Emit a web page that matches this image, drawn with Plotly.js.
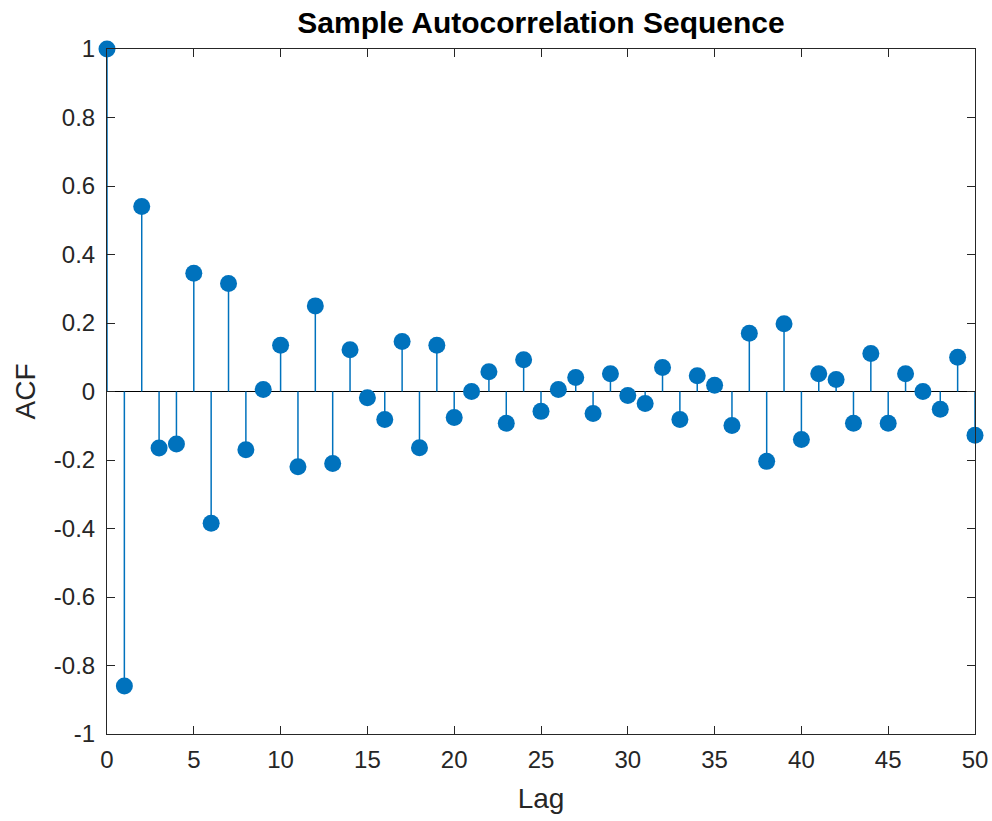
<!DOCTYPE html>
<html>
<head>
<meta charset="utf-8">
<script src="https://cdn.plot.ly/plotly-3.0.1.min.js"></script>
<style>html,body{margin:0;padding:0;background:#fff;}#chart{width:992px;height:821px;}</style>
</head>
<body>
<div id="chart"></div>
<script>
const lags = [];
for (let i = 0; i <= 50; i++) lags.push(i);
const acf = [1.0, -0.86, 0.54, -0.165, -0.153, 0.345, -0.385, 0.315, -0.17, 0.006,
  0.135, -0.22, 0.25, -0.21, 0.122, -0.018, -0.082, 0.146, -0.164, 0.135,
  -0.076, 0.0, 0.058, -0.093, 0.093, -0.058, 0.006, 0.041, -0.064, 0.052,
  -0.012, -0.035, 0.07, -0.082, 0.046, 0.018, -0.099, 0.17, -0.204, 0.198,
  -0.14, 0.052, 0.035, -0.093, 0.111, -0.093, 0.052, 0.0, -0.052, 0.1, -0.128];
const yTickVals = [-1, -0.8, -0.6, -0.4, -0.2, 0, 0.2, 0.4, 0.6, 0.8, 1];
const yTickText = ["-1", "-0.8", "-0.6", "-0.4", "-0.2", "0", "0.2", "0.4", "0.6", "0.8", "1"];
const xTickVals = [0, 5, 10, 15, 20, 25, 30, 35, 40, 45, 50];

const stemX = [], stemY = [];
lags.forEach((k, i) => { stemX.push(k, k, null); stemY.push(0, acf[i], null); });

const blue = '#0072BD';
const axisColor = '#262626';
const font = 'Liberation Sans, Arial, Helvetica, sans-serif';

const data = [
  {x: stemX, y: stemY, mode: 'lines', type: 'scatter', line: {color: blue, width: 1.5}, hoverinfo: 'skip', showlegend: false, cliponaxis: false},
  {x: lags, y: acf, mode: 'markers', type: 'scatter', marker: {color: blue, size: 17}, showlegend: false, cliponaxis: false}
];

const layout = {
  width: 992, height: 821,
  margin: {l: 107, r: 17, t: 49, b: 87},
  paper_bgcolor: '#fff', plot_bgcolor: '#fff',
  font: {family: font, color: axisColor, size: 24},
  title: {text: '<b>Sample Autocorrelation Sequence</b>', font: {family: font, size: 30, color: '#000'}, x: 0.5, xanchor: 'center', xref: 'paper', y: 1 - 22/821, yref: 'container', yanchor: 'middle'},
  xaxis: {
    range: [0, 50], tickvals: xTickVals, ticktext: xTickVals.map(String),
    ticks: 'inside', ticklen: 8, tickwidth: 1, tickcolor: axisColor,
    showline: true, linecolor: axisColor, linewidth: 1, mirror: 'ticks',
    showgrid: false, zeroline: false,
    tickfont: {family: font, size: 24, color: axisColor}, ticklabelstandoff: 4,
    title: {text: 'Lag', font: {family: font, size: 28, color: axisColor}, standoff: 16}
  },
  yaxis: {
    range: [-1, 1], tickvals: yTickVals, ticktext: yTickText,
    ticks: 'inside', ticklen: 8, tickwidth: 1, tickcolor: axisColor,
    showline: true, linecolor: axisColor, linewidth: 1, mirror: 'ticks',
    showgrid: false, zeroline: true, zerolinecolor: '#000', zerolinewidth: 1.5,
    tickfont: {family: font, size: 24, color: axisColor}, ticklabelstandoff: 6,
    title: {text: 'ACF', font: {family: font, size: 28, color: axisColor}, standoff: 10}
  }
};

Plotly.newPlot('chart', data, layout, {displayModeBar: false, staticPlot: true});
</script>
</body>
</html>
